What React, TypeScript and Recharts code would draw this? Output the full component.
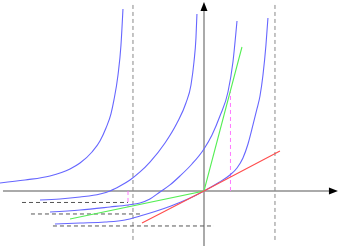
import React from 'react';
import { LineChart, Line, XAxis, YAxis, ReferenceLine, ReferenceDot } from 'recharts';

// Unit = 71px in the picture, origin where the axes cross
const X_DOMAIN = [-2.873, 1.944];
const Y_DOMAIN = [-0.775, 2.69];

// Blue curves (left to right)
const curveA = [
  { x: -2.873, y: 0.113 }, { x: -2.521, y: 0.155 }, { x: -2.169, y: 0.211 },
  { x: -1.887, y: 0.31 }, { x: -1.746, y: 0.394 }, { x: -1.577, y: 0.549 },
  { x: -1.465, y: 0.704 }, { x: -1.38, y: 0.887 }, { x: -1.31, y: 1.085 },
  { x: -1.268, y: 1.282 }, { x: -1.211, y: 1.634 }, { x: -1.169, y: 2.056 },
  { x: -1.141, y: 2.563 },
];

const curveB = [
  { x: -2.31, y: -0.127 }, { x: -2.028, y: -0.113 }, { x: -1.746, y: -0.085 },
  { x: -1.465, y: -0.042 }, { x: -1.324, y: 0 }, { x: -1.183, y: 0.07 },
  { x: -1.042, y: 0.155 }, { x: -0.901, y: 0.268 }, { x: -0.761, y: 0.408 },
  { x: -0.549, y: 0.676 }, { x: -0.38, y: 0.958 }, { x: -0.254, y: 1.239 },
  { x: -0.183, y: 1.493 }, { x: -0.141, y: 1.817 }, { x: -0.113, y: 2.155 },
  { x: -0.099, y: 2.493 },
];

const curveC = [
  { x: -2.169, y: -0.296 }, { x: -1.746, y: -0.268 }, { x: -1.324, y: -0.225 },
  { x: -1.07, y: -0.197 }, { x: -0.901, y: -0.169 }, { x: -0.761, y: -0.113 },
  { x: -0.62, y: -0.014 }, { x: -0.479, y: 0.085 }, { x: -0.338, y: 0.211 },
  { x: -0.169, y: 0.38 }, { x: 0, y: 0.592 }, { x: 0.113, y: 0.789 },
  { x: 0.225, y: 1.056 }, { x: 0.338, y: 1.394 }, { x: 0.408, y: 1.817 },
  { x: 0.465, y: 2.394 },
];

const curveD = [
  { x: -2.099, y: -0.465 }, { x: -1.746, y: -0.451 }, { x: -1.394, y: -0.437 },
  { x: -1.113, y: -0.408 }, { x: -0.901, y: -0.352 }, { x: -0.69, y: -0.289 },
  { x: -0.465, y: -0.211 }, { x: -0.225, y: -0.113 }, { x: 0, y: 0 },
  { x: 0.197, y: 0.113 }, { x: 0.366, y: 0.225 }, { x: 0.465, y: 0.324 },
  { x: 0.549, y: 0.465 }, { x: 0.62, y: 0.662 }, { x: 0.69, y: 0.93 },
  { x: 0.746, y: 1.155 }, { x: 0.789, y: 1.338 }, { x: 0.831, y: 1.634 },
  { x: 0.873, y: 2.056 }, { x: 0.901, y: 2.437 },
];

// Straight lines through the origin
const tangentRed = [{ x: -0.873, y: -0.451 }, { x: 0, y: 0 }, { x: 1.07, y: 0.563 }];
const secantGreen = [{ x: -1.887, y: -0.394 }, { x: 0, y: 0 }, { x: 0.535, y: 2.028 }];

// Dashed guides
const verticalAsymptotes = [-1, 1];
const asymptoteSpan = [-0.69, 2.634];
const horizontalAsymptotes = [
  { y: -0.162, from: -2.563, to: -1.07 },
  { y: -0.324, from: -2.437, to: -0.859 },
  { y: -0.493, from: -2.127, to: 0.141 },
];
const pinkDrops = [
  { x: -1.07, to: -0.225 },
  { x: 0.373, to: 1.4 },
];

const xAxisSpan = [-2.831, 1.887];
const yAxisSpan = [-0.775, 2.662];

const ArrowRight = (p: any) => (
  <path d={`M${p.cx},${p.cy} l-9,-3.5 l0,7 z`} fill="#000" />
);
const ArrowUp = (p: any) => (
  <path d={`M${p.cx},${p.cy} l-3.5,9 l7,0 z`} fill="#000" />
);

const App: React.FC = () => {
  const curve = (data: { x: number; y: number }[], color: string, key: string, smooth = true) => (
    <Line
      key={key}
      data={data}
      dataKey="y"
      type={smooth ? 'monotone' : 'linear'}
      stroke={color}
      strokeWidth={1.1}
      dot={false}
      activeDot={false}
      isAnimationActive={false}
    />
  );

  return (
    <div style={{ position: 'absolute', left: 0, top: 0, background: '#fff' }}>
      <LineChart width={342} height={246} margin={{ top: 0, right: 0, bottom: 0, left: 0 }}>
        <XAxis type="number" dataKey="x" domain={X_DOMAIN} allowDataOverflow hide />
        <YAxis type="number" domain={Y_DOMAIN} allowDataOverflow hide />

        {/* axes */}
        <ReferenceLine
          segment={[{ x: xAxisSpan[0], y: 0 }, { x: xAxisSpan[1] - 0.05, y: 0 }]}
          stroke="#aaa"
          strokeWidth={2}
        />
        <ReferenceLine
          segment={[{ x: 0, y: yAxisSpan[0] }, { x: 0, y: yAxisSpan[1] - 0.05 }]}
          stroke="#aaa"
          strokeWidth={2}
        />
        <ReferenceDot x={xAxisSpan[1]} y={0} r={0} shape={ArrowRight} />
        <ReferenceDot x={0} y={yAxisSpan[1]} r={0} shape={ArrowUp} />

        {verticalAsymptotes.map((x) => (
          <ReferenceLine
            key={'v' + x}
            segment={[{ x, y: asymptoteSpan[0] }, { x, y: asymptoteSpan[1] }]}
            stroke="#888"
            strokeDasharray="4 3"
          />
        ))}
        {horizontalAsymptotes.map((h) => (
          <ReferenceLine
            key={'h' + h.y}
            segment={[{ x: h.from, y: h.y }, { x: h.to, y: h.y }]}
            stroke="#555"
            strokeDasharray="4 3"
          />
        ))}
        {pinkDrops.map((d) => (
          <ReferenceLine
            key={'p' + d.x}
            segment={[{ x: d.x, y: 0 }, { x: d.x, y: d.to }]}
            stroke="#ff77ff"
            strokeDasharray="4 3"
          />
        ))}

        {curve(curveA, '#6666ff', 'a')}
        {curve(curveB, '#6666ff', 'b')}
        {curve(curveC, '#6666ff', 'c')}
        {curve(curveD, '#6666ff', 'd')}
        {curve(secantGreen, '#55ee55', 'g', false)}
        {curve(tangentRed, '#ff4d4d', 'r', false)}
      </LineChart>
    </div>
  );
};

export default App;
